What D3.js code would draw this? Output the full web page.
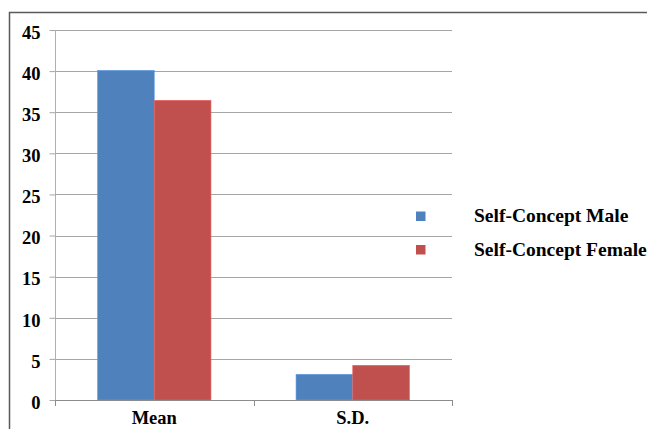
<!DOCTYPE html>
<html>
<head>
<meta charset="utf-8">
<script src="https://cdn.jsdelivr.net/npm/d3@7"></script>
<style>
  html, body { margin: 0; padding: 0; background: #fff; }
  svg { display: block; }
  svg text { font-family: "Liberation Serif", "Tinos", "Times New Roman", "DejaVu Serif", serif !important; font-weight: bold; fill: #000; }
</style>
</head>
<body>
<svg id="chart" width="647" height="429"></svg>
<script>
// Self-concept scores by gender
const categories = ["Mean", "S.D."];
const seriesNames = ["Self-Concept Male", "Self-Concept Female"];
const maleValues = [40.1, 3.13];
const femaleValues = [36.45, 4.22];
const yTicks = [0, 5, 10, 15, 20, 25, 30, 35, 40, 45];
const colors = ["#4F81BD", "#C0504D"];

const series = [maleValues, femaleValues];
const svg = d3.select("#chart");
const W = 647, H = 429;
const serif = "'Liberation Serif', 'Tinos', 'Times New Roman', 'DejaVu Serif', serif";

// outer chart frame
svg.append("rect")
  .attr("x", 9.5).attr("y", 12.5)
  .attr("width", W + 10).attr("height", H + 10)
  .attr("fill", "none").attr("stroke", "#5a5a5a").attr("stroke-width", 1.5);

const plot = { left: 55, right: 452, top: 30, bottom: 400 };

const y = d3.scaleLinear().domain([0, 45]).range([plot.bottom, plot.top]);
const x0 = d3.scaleBand().domain(categories).range([plot.left, plot.right]).paddingInner(0).paddingOuter(0);
// gap width 150% of a bar: 2 bars + 1.5 gap per band
const barW = x0.bandwidth() / 3.5;
const x1 = d3.scaleBand().domain(d3.range(series.length))
  .range([0, barW * 2]).padding(0);

// gridlines
svg.append("g")
  .selectAll("line")
  .data(yTicks.filter(d => d > 0))
  .join("line")
  .attr("x1", plot.left).attr("x2", plot.right)
  .attr("y1", d => Math.round(y(d)) + 0.5).attr("y2", d => Math.round(y(d)) + 0.5)
  .attr("stroke", "#a6a6a6").attr("stroke-width", 1);

// y axis
const yAxis = svg.append("g")
  .attr("transform", `translate(${plot.left + 0.5},0)`)
  .call(d3.axisLeft(y).tickValues(yTicks).tickSize(6).tickPadding(9).tickFormat(d3.format("d")));
yAxis.attr("font-family", serif);
yAxis.select(".domain").attr("stroke", "#b0b0b0").attr("d", `M0,${plot.top}V${plot.bottom + 5}`);
yAxis.selectAll(".tick line").attr("stroke", "#a6a6a6");
yAxis.selectAll(".tick text")
  .attr("font-size", 18.5).attr("dy", "0.45em");

// bars
const groups = svg.append("g").selectAll("g")
  .data(categories)
  .join("g")
  .attr("transform", c => `translate(${x0(c) + (x0.bandwidth() - barW * 2) / 2},0)`);

groups.selectAll("rect")
  .data((c, i) => series.map((s, k) => ({ k, v: s[i] })))
  .join("rect")
  .attr("x", d => x1(d.k))
  .attr("width", x1.bandwidth())
  .attr("y", d => y(d.v))
  .attr("height", d => y(0) - y(d.v))
  .attr("fill", d => colors[d.k])
  .attr("stroke", d => d3.color(colors[d.k]).brighter(0.6))
  .attr("stroke-width", 0.6);

// x axis
const xAxis = svg.append("g")
  .attr("transform", `translate(0,${plot.bottom + 0.5})`)
  .call(d3.axisBottom(x0).tickSize(0).tickPadding(0));
xAxis.attr("font-family", serif);
xAxis.select(".domain").attr("stroke", "#8c8c8c").attr("d", `M${plot.left},0H${plot.right}`);
xAxis.selectAll(".tick text")
  .attr("font-size", 18.5)
  .attr("dy", null)
  .attr("y", 23.5);
// category separator ticks
svg.append("g").selectAll("line")
  .data([plot.left, x0("S.D."), plot.right])
  .join("line")
  .attr("x1", d => Math.round(d) + 0.5).attr("x2", d => Math.round(d) + 0.5)
  .attr("y1", plot.bottom).attr("y2", plot.bottom + 6)
  .attr("stroke", "#8c8c8c");

// legend
const legend = svg.append("g").selectAll("g")
  .data(seriesNames)
  .join("g")
  .attr("transform", (d, i) => `translate(416,${211.5 + i * 33.5})`);
legend.append("rect")
  .attr("width", 9.5).attr("height", 9.5)
  .attr("fill", (d, i) => colors[i]);
legend.append("text")
  .attr("x", 58).attr("y", 10.5)
  .attr("font-size", 19.5)
  .text(d => d);
</script>
</body>
</html>
